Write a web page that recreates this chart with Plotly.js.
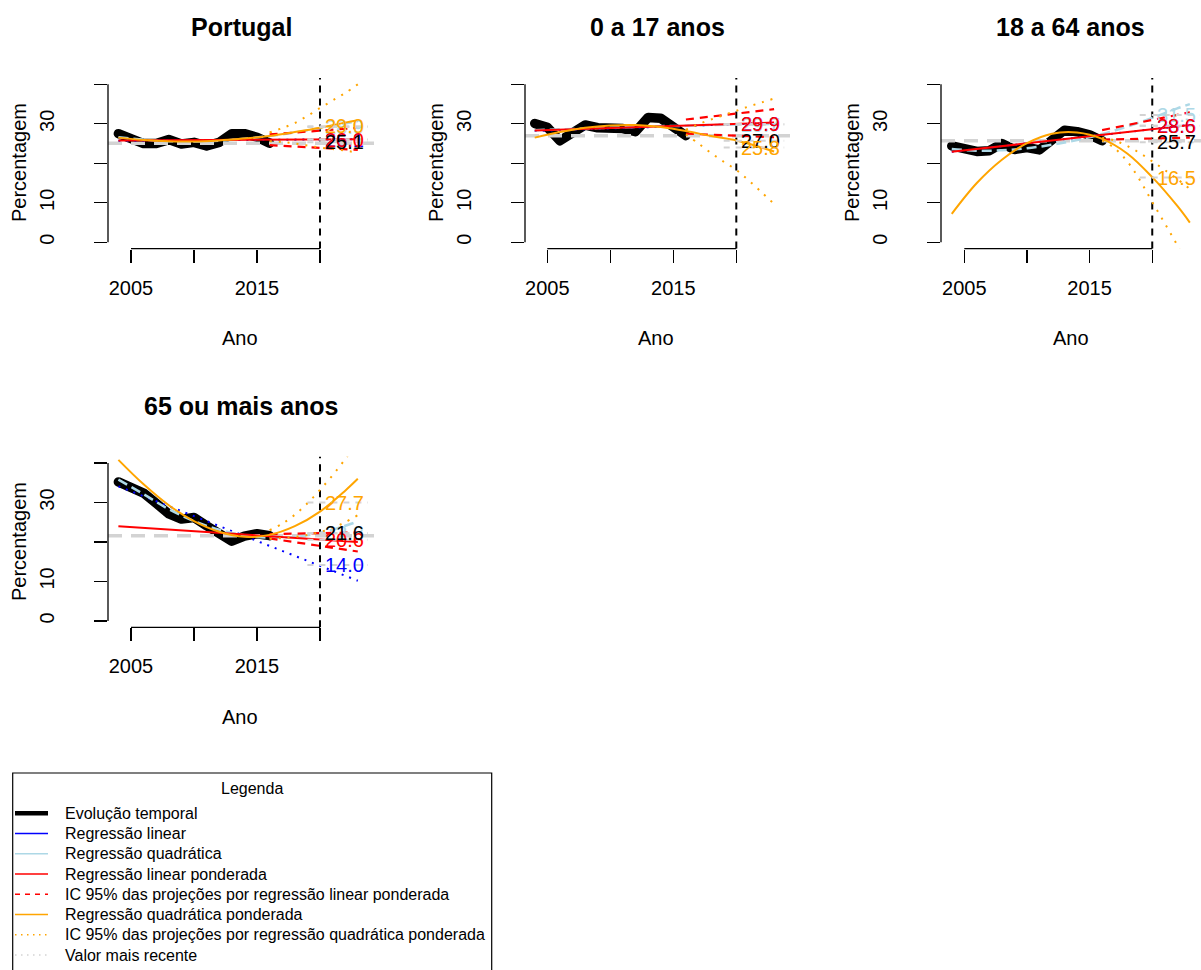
<!DOCTYPE html>
<html>
<head>
<meta charset="utf-8">
<script src="https://cdn.plot.ly/plotly-3.0.1.min.js"></script>
<style>html,body{margin:0;padding:0;background:#fff;overflow:hidden;}#chart{width:1201px;height:970px;}</style>
</head>
<body>
<div id="chart"></div>
<script>
// ---------------- DATA ----------------
const years = [2004, 2005, 2006, 2007, 2008, 2009, 2010, 2011, 2012, 2013, 2014, 2015, 2016];
const targetYear = 2020;
const panelTitles = ['Portugal', '0 a 17 anos', '18 a 64 anos', '65 ou mais anos'];
const xTickVals = [2005, 2010, 2015, 2020];
const xTickText = ['2005', '', '2015', ''];
const yTickVals = [0, 10, 20, 30, 40];
const yTickText = ['0', '10', '', '30', ''];
const xLabel = 'Ano';
const yLabel = 'Percentagem';

// Evolução temporal
const valPortugal = [27.5, 26.1, 25.0, 25.0, 26.0, 24.9, 25.3, 24.4, 25.3, 27.5, 27.5, 26.6, 25.1];
const val0a17     = [30.1, 29.1, 25.7, 27.7, 29.7, 29.0, 29.0, 28.8, 28.0, 31.6, 31.4, 29.4, 27.0];
const val18a64    = [24.4, 23.4, 23.0, 23.2, 25.0, 23.5, 24.0, 23.4, 25.9, 28.4, 28.0, 27.2, 25.7];
const val65mais   = [35.2, 34.1, 32.4, 29.8, 27.1, 25.8, 26.2, 24.1, 21.8, 20.2, 21.5, 22.1, 21.6];

// Regressão linear (fitted line, read at both ends)
const linYears = [2004, 2023];
const linPortugal = [25.7, 26.1];
const lin0a17     = [28.2, 30.2];
const lin18a64    = [22.9, 29.7];
const lin65mais   = [34.1, 10.2];

// Regressão quadrática
const quadYears = [2004, 2006, 2008, 2010, 2012, 2014, 2016, 2018, 2020, 2022, 2023];
const quadPortugal = [26.6, 26.0, 25.6, 25.5, 25.7, 26.2, 26.9, 27.8, 28.9, 30.1, 30.7];
const quad0a17     = [28.4, 28.6, 28.8, 29.0, 29.2, 29.4, 29.5, 29.7, 29.8, 29.9, 30.0];
const quad18a64    = [23.6, 23.2, 23.3, 23.8, 24.7, 25.9, 27.4, 29.3, 31.5, 33.9, 35.0];
const quad65mais   = [35.8, 32.1, 28.3, 25.3, 23.1, 21.7, 21.1, 21.3, 22.3, 24.1, 25.2];

// Regressão linear ponderada
const wlinYears = [2004, 2023];
const wlinPortugal = [25.8, 26.1];
const wlin0a17     = [28.3, 30.3];
const wlin18a64    = [22.9, 29.7];
const wlin65mais   = [24.0, 20.0];

// IC 95% das projeções por regressão linear ponderada
const ciLinYears = [2016, 2020, 2023];
const ciLinUpPortugal = [27.3, 28.3, 29.0];
const ciLinLoPortugal = [24.6, 24.0, 23.4];
const ciLinUp0a17     = [31.1, 32.5, 33.7];
const ciLinLo0a17     = [27.5, 27.0, 26.6];
const ciLinUp18a64    = [28.4, 31.0, 32.9];
const ciLinLo18a64    = [26.0, 26.3, 26.5];
const ciLinUp65mais   = [22.0, 22.2, 22.4];
const ciLinLo65mais   = [20.9, 19.0, 17.6];

// Regressão quadrática ponderada
const wquadYears = [2004, 2006, 2008, 2010, 2012, 2014, 2016, 2018, 2020, 2022, 2023];
const wquadPortugal = [26.5, 25.9, 25.6, 25.5, 25.8, 26.3, 26.9, 27.9, 29.0, 30.3, 30.9];
const wquad0a17     = [26.5, 27.9, 29.0, 29.6, 29.7, 29.2, 28.2, 26.9, 25.8, 24.0, 23.0];
const wquad18a64    = [7.2, 15.0, 20.9, 25.1, 27.5, 27.8, 26.2, 22.5, 16.5, 9.2, 5.0];
const wquad65mais   = [40.8, 34.6, 29.3, 25.3, 22.6, 21.3, 21.8, 24.0, 27.7, 33.0, 36.0];

// IC 95% das projeções por regressão quadrática ponderada
const ciQuadYears = [2016, 2017, 2018, 2019, 2020, 2021, 2022, 2023];
const ciQuadUpPortugal = [27.8, 28.9, 30.2, 32.0, 34.0, 35.9, 37.8, 40.0];
const ciQuadLoPortugal = [25.6, 25.4, 25.0, 24.5, 24.0, 23.6, 23.2, 22.7];
const ciQuadUp0a17     = [28.5, 29.9, 31.1, 32.2, 33.3, 34.4, 35.4, 36.4];
const ciQuadLo0a17     = [27.3, 25.0, 22.6, 20.4, 18.3, 15.6, 12.7, 9.7];
const ciQuadUp18a64    = [26.5, 25.8, 24.4, 22.6, 20.5, 18.3, 16.0, 13.5];
const ciQuadLo18a64    = [25.8, 23.8, 20.5, 15.8, 10.2, 4.8, -0.8, -7.0];
const ciQuadUp65mais   = [23.0, 24.6, 26.9, 29.8, 33.2, 36.9, 41.0, 45.5];
const ciQuadLo65mais   = [20.8, 21.0, 21.3, 21.8, 22.5, 23.6, 25.0, 26.8];

// Projection labels at the target year (order: linear, quadrática, linear ponderada, valor recente, quadrática ponderada)
const labTextPortugal = ['26.1', '28.9', '26.0', '25.1', '29.0'];
const labYPortugal    = [26.0, 29.2, 26.0, 25.3, 29.4];
const labText0a17     = ['29.9', '29.7', '29.9', '27.0', '25.8'];
const labY0a17        = [29.9, 29.8, 29.9, 25.7, 24.0];
const labText18a64    = ['28.6', '31.5', '28.6', '25.7', '16.5'];
const labY18a64       = [29.5, 32.2, 29.5, 25.3, 16.4];
const labText65mais   = ['14.0', '22.3', '20.6', '21.6', '27.7'];
const labY65mais      = [14.2, 22.2, 20.6, 22.2, 30.0];

const legendTitle = 'Legenda';
const legendNames = ['Evolução temporal', 'Regressão linear', 'Regressão quadrática',
  'Regressão linear ponderada', 'IC 95% das projeções por regressão linear ponderada',
  'Regressão quadrática ponderada', 'IC 95% das projeções por regressão quadrática ponderada',
  'Valor mais recente'];

// ---------------- STYLE / LAYOUT ----------------
const W = 1201, H = 970;
const FONT = 'Liberation Sans, Arial, Helvetica, sans-serif';
const C = {black:'#000000', blue:'#0000FF', lblue:'#ADD8E6', red:'#FF0000', orange:'#FFA500', grey:'#D3D3D3'};
const labColors = [C.blue, C.lblue, C.red, C.black, C.orange];
const yRange = [-1.6, 41.6];
const THICK = 9.5;

const panels = [
  {vals: valPortugal, lin: linPortugal, quad: quadPortugal, wlin: wlinPortugal, ciLU: ciLinUpPortugal, ciLL: ciLinLoPortugal,
   wq: wquadPortugal, ciQU: ciQuadUpPortugal, ciQL: ciQuadLoPortugal, labT: labTextPortugal, labY: labYPortugal,
   box: {l:108, r:374, t:78, b:248.6, x0px:131, ppy:12.6}, titleXY:[241, 27], xlabXY:[240, 338], ylabXY:[19, 163]},
  {vals: val0a17, lin: lin0a17, quad: quad0a17, wlin: wlin0a17, ciLU: ciLinUp0a17, ciLL: ciLinLo0a17,
   wq: wquad0a17, ciQU: ciQuadUp0a17, ciQL: ciQuadLo0a17, labT: labText0a17, labY: labY0a17,
   box: {l:525, r:790, t:78, b:248.6, x0px:547.3, ppy:12.6}, titleXY:[657.5, 27], xlabXY:[656, 338], ylabXY:[436, 163]},
  {vals: val18a64, lin: lin18a64, quad: quad18a64, wlin: wlin18a64, ciLU: ciLinUp18a64, ciLL: ciLinLo18a64,
   wq: wquad18a64, ciQU: ciQuadUp18a64, ciQL: ciQuadLo18a64, labT: labText18a64, labY: labY18a64,
   box: {l:941, r:1201, t:78, b:248.6, x0px:964.3, ppy:12.53}, titleXY:[1070, 27], xlabXY:[1071, 338], ylabXY:[852, 163]},
  {vals: val65mais, lin: lin65mais, quad: quad65mais, wlin: wlin65mais, ciLU: ciLinUp65mais, ciLL: ciLinLo65mais,
   wq: wquad65mais, ciQU: ciQuadUp65mais, ciQL: ciQuadLo65mais, labT: labText65mais, labY: labY65mais,
   box: {l:108, r:374, t:456.7, b:627.3, x0px:131, ppy:12.6}, titleXY:[241, 406], xlabXY:[240, 717], ylabXY:[19, 542]}
];

// legend box geometry (pixels)
const LEG = {l: 12.7, r: 491.7, t: 773, b: 976, titleY: 788.5, row0: 813.3, rowStep: 20.25,
             sx0: 15, sx1: 48, tx: 63, fontSize: 16};

const traces = [];
const shapes = [];
const annotations = [];
const layout = {
  width: W, height: H, autosize: false,
  margin: {l:0, r:0, t:0, b:0, pad:0},
  paper_bgcolor: '#fff', plot_bgcolor: 'rgba(0,0,0,0)',
  font: {family: FONT, color: '#000', size: 20},
  showlegend: false
};

function line(x, y, xa, ya, color, width, dash, spline) {
  return {type:'scatter', mode:'lines', x:x, y:y, xaxis:xa, yaxis:ya, showlegend:false, hoverinfo:'skip',
          line:{color:color, width:width, dash:dash || 'solid', shape: spline ? 'spline' : 'linear', smoothing: 1}};
}

panels.forEach((p, i) => {
  const sfx = i === 0 ? '' : String(i + 1);
  const xa = 'x' + sfx, ya = 'y' + sfx;
  const b = p.box;
  const xr = [2005 - (b.x0px - b.l) / b.ppy, 2005 + (b.r - b.x0px) / b.ppy];

  layout['xaxis' + sfx] = {
    domain: [b.l / W, b.r / W], range: xr, anchor: ya, fixedrange: true,
    tickmode: 'array', tickvals: xTickVals, ticktext: xTickText,
    ticks: 'outside', ticklen: 13, tickwidth: 1.3, tickcolor: '#000',
    showgrid: false, zeroline: false, showline: false,
    tickfont: {family: FONT, size: 20, color: '#000'}, ticklabelstandoff: 8
  };
  layout['yaxis' + sfx] = {
    domain: [1 - b.b / H, 1 - b.t / H], range: yRange, anchor: xa, fixedrange: true,
    tickmode: 'array', tickvals: yTickVals, ticktext: yTickText, tickangle: -90,
    ticks: 'outside', ticklen: 13, tickwidth: 1.3, tickcolor: '#000',
    showgrid: false, zeroline: false, showline: false,
    tickfont: {family: FONT, size: 20, color: '#000'}, ticklabelstandoff: 32
  };

  // axis lines (R style: only between first and last tick)
  shapes.push({type:'line', xref: xa + ' domain', x0:0, x1:0, yref: ya, y0: yTickVals[0], y1: yTickVals[yTickVals.length-1],
               line:{color:'#000', width:1.3}});
  shapes.push({type:'line', xref: xa, x0: xTickVals[0], x1: xTickVals[xTickVals.length-1], yref: ya + ' domain', y0:0, y1:0,
               line:{color:'#000', width:1.3}});
  // target year vertical dashed line
  shapes.push({type:'line', xref: xa, x0: targetYear, x1: targetYear, yref: ya + ' domain', y0:0, y1:1,
               line:{color:'#000', width:2, dash:'7px,6px'}, layer:'below'});

  // marks
  traces.push(line(years, p.vals, xa, ya, C.black, THICK, 'solid', false));
  const last = p.vals[p.vals.length - 1];
  traces.push(line(xr, [last, last], xa, ya, C.grey, 3.5, '14px,9px', false));
  traces.push(line(linYears, p.lin, xa, ya, C.blue, 2, '2px,6px', false));
  traces.push(line(quadYears, p.quad, xa, ya, C.lblue, 2.5, '10px,5px', true));
  traces.push(line(wlinYears, p.wlin, xa, ya, C.red, 2, 'solid', false));
  traces.push(line(ciLinYears, p.ciLU, xa, ya, C.red, 2.2, '8px,6px', false));
  traces.push(line(ciLinYears, p.ciLL, xa, ya, C.red, 2.2, '8px,6px', false));
  traces.push(line(wquadYears, p.wq, xa, ya, C.orange, 2, 'solid', true));
  traces.push(line(ciQuadYears, p.ciQU, xa, ya, C.orange, 2, '2px,7px', true));
  traces.push(line(ciQuadYears, p.ciQL, xa, ya, C.orange, 2, '2px,7px', true));

  // light grey dashes behind projection labels
  const gx = [], gy = [];
  p.labY.forEach(v => { gx.push(targetYear - 1, targetYear + 3.8, null); gy.push(v, v, null); });
  traces.push(line(gx, gy, xa, ya, C.grey, 2, '6px,6px', false));

  // projection labels
  p.labT.forEach((t, j) => {
    annotations.push({xref: xa, yref: ya, x: targetYear, y: p.labY[j], text: t, showarrow: false,
      xanchor: 'left', yanchor: 'middle', xshift: 3, font: {family: FONT, size: 20, color: labColors[j]}});
  });

  // titles
  annotations.push({xref:'paper', yref:'paper', x: p.titleXY[0] / W, y: 1 - p.titleXY[1] / H, text: '<b>' + panelTitles[i] + '</b>',
    showarrow:false, xanchor:'center', yanchor:'middle', font:{family: FONT, size: 25, color:'#000'}});
  annotations.push({xref:'paper', yref:'paper', x: p.xlabXY[0] / W, y: 1 - p.xlabXY[1] / H, text: xLabel,
    showarrow:false, xanchor:'center', yanchor:'middle', font:{family: FONT, size: 20, color:'#000'}});
  annotations.push({xref:'paper', yref:'paper', x: p.ylabXY[0] / W, y: 1 - p.ylabXY[1] / H, text: yLabel, textangle: -90,
    showarrow:false, xanchor:'center', yanchor:'middle', font:{family: FONT, size: 20, color:'#000'}});
});

// ---------------- LEGEND (R-style box) ----------------
const legendStyles = [
  {color: C.black, width: 4.5, dash: 'solid'},
  {color: C.blue, width: 1.5, dash: 'solid'},
  {color: C.lblue, width: 1.5, dash: 'solid'},
  {color: C.red, width: 1.5, dash: 'solid'},
  {color: C.red, width: 1.5, dash: '5px,5px'},
  {color: C.orange, width: 1.5, dash: 'solid'},
  {color: C.orange, width: 1.5, dash: '1.5px,4.5px'},
  {color: C.grey, width: 1.5, dash: '1.5px,4.5px'}
];
shapes.push({type:'rect', xref:'paper', yref:'paper', x0: LEG.l / W, x1: LEG.r / W, y0: 1 - LEG.b / H, y1: 1 - LEG.t / H,
             line:{color:'#000', width:1.2}, fillcolor:'rgba(0,0,0,0)'});
annotations.push({xref:'paper', yref:'paper', x: (LEG.l + LEG.r) / 2 / W, y: 1 - LEG.titleY / H, text: legendTitle,
  showarrow:false, xanchor:'center', yanchor:'middle', font:{family: FONT, size: LEG.fontSize, color:'#000'}});
legendNames.forEach((n, k) => {
  const yy = 1 - (LEG.row0 + k * LEG.rowStep) / H;
  shapes.push({type:'line', xref:'paper', yref:'paper', x0: LEG.sx0 / W, x1: LEG.sx1 / W, y0: yy, y1: yy, line: legendStyles[k]});
  annotations.push({xref:'paper', yref:'paper', x: LEG.tx / W, y: yy, text: n, showarrow:false,
    xanchor:'left', yanchor:'middle', font:{family: FONT, size: LEG.fontSize, color:'#000'}});
});

layout.shapes = shapes;
layout.annotations = annotations;

Plotly.newPlot('chart', traces, layout, {staticPlot: true, displayModeBar: false}).then(gd => {
  // R draws thick lines with round caps and joins
  gd.querySelectorAll('.scatterlayer .js-line').forEach(el => {
    if (parseFloat(el.style.strokeWidth) >= THICK - 0.1) {
      el.style.strokeLinecap = 'round';
      el.style.strokeLinejoin = 'round';
    }
  });
});
</script>
</body>
</html>
